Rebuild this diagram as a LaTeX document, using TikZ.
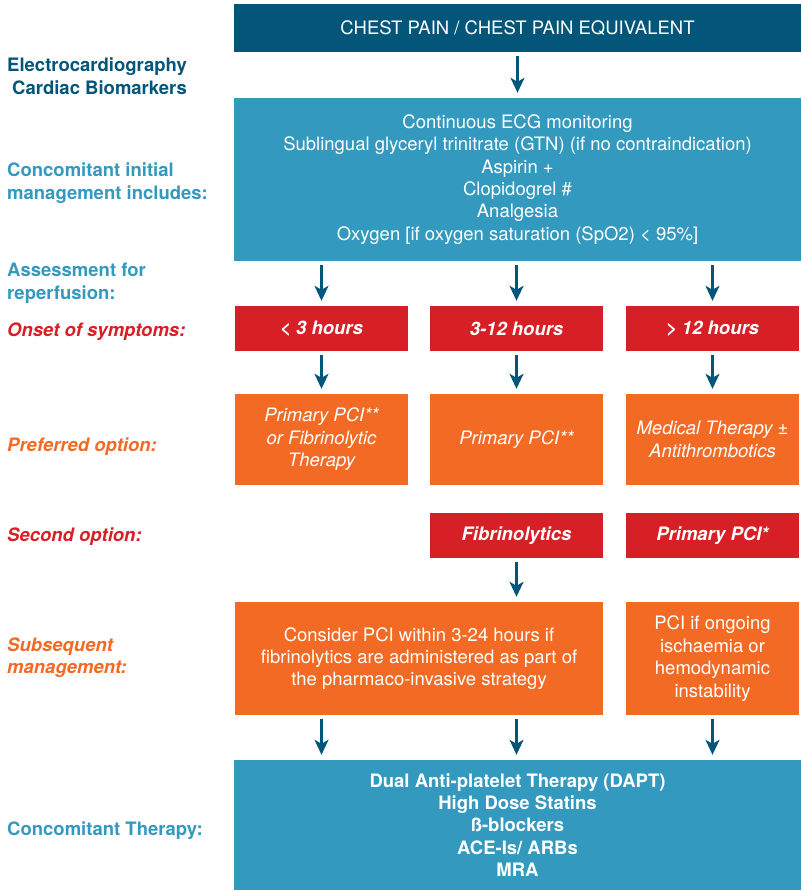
\documentclass[tikz,border=0pt]{standalone}
\usepackage{fontspec}
\setmainfont{TeX Gyre Heros}
\usetikzlibrary{arrows.meta,calc}
\definecolor{dblue}{HTML}{03557A}
\definecolor{cteal}{HTML}{3399BF}
\definecolor{cred}{HTML}{D71F26}
\definecolor{corange}{HTML}{F26A23}
\newcommand{\fsz}{\fontsize{18.5}{22.4}\selectfont}
\begin{document}
\begin{tikzpicture}[x=1pt,y=-1pt,
  box/.style={rectangle, inner sep=0pt, align=center, text=white, font=\fsz},
  topbox/.style={box, fill=dblue, minimum width=567pt, minimum height=48pt},
  tealbox/.style={box, fill=cteal, minimum width=567pt},
  redbox/.style={box, fill=cred, minimum width=173pt, minimum height=45pt,
    font=\fsz\bfseries\itshape},
  orbox/.style={box, fill=corange, minimum width=173pt},
  itbox/.style={orbox, minimum height=91pt, font=\fsz\itshape},
  lab/.style={inner sep=0pt, align=left, anchor=west,
    font=\fontsize{18.5}{23}\selectfont\bfseries},
  labb/.style={lab, anchor=base west},
  labi/.style={labb, font=\fontsize{18.5}{23}\selectfont\bfseries\itshape},
  arr/.style={draw=dblue, line width=2.2pt,
    -{Stealth[length=15pt,width=14pt,inset=4pt]},
    shorten <=4pt, shorten >=5pt}]
\useasboundingbox (0,0) rectangle (801,891);

% main column
\node[topbox] (top) at (517.5,28) {CHEST PAIN / CHEST PAIN EQUIVALENT};
\node[tealbox, minimum height=163pt] (init) at (517.5,179.5)
  {Continuous ECG monitoring\\
   Sublingual glyceryl trinitrate (GTN) (if no contraindication)\\
   Aspirin +\\
   Clopidogrel \#\\
   Analgesia\\
   Oxygen [if oxygen saturation (SpO2) < 95\%]};

\node[redbox] (r1) at (321.5,328.5) {< 3 hours};
\node[redbox] (r2) at (516.5,328.5) {3-12 hours};
\node[redbox] (r3) at (712.5,328.5) {> 12 hours};

\node[itbox] (p1) at (321.5,439.5) {Primary PCI**\\ or Fibrinolytic\\ Therapy};
\node[itbox] (p2) at (516.5,439.5) {Primary PCI**};
\node[itbox] (p3) at (712.5,439.5) {Medical Therapy ±\\ Antithrombotics};

\node[redbox] (s2) at (516.5,535.5) {Fibrinolytics};
\node[redbox] (s3) at (712.5,535.5) {Primary PCI*};

\node[orbox, minimum width=368pt, minimum height=113pt] (sa) at (419,658.5)
  {Consider PCI within 3-24 hours if\\
   fibrinolytics are administered as part of\\
   the pharmaco-invasive strategy};
\node[orbox, minimum height=113pt] (sb) at (712.5,658.5)
  {PCI if ongoing\\ ischaemia or\\ hemodynamic\\ instability};

\node[tealbox, minimum height=130pt, font=\fsz\bfseries] (bot) at (517.5,825)
  {Dual Anti-platelet Therapy (DAPT)\\
   High Dose Statins\\
   ß-blockers\\
   ACE-Is/ ARBs\\
   MRA};

% arrows
\draw[arr] (top) -- (init);
\draw[arr] (init.south -| r1) -- (r1);
\draw[arr] (init.south -| r2) -- (r2);
\draw[arr] (init.south -| r3) -- (r3);
\draw[arr] (r1) -- (p1);
\draw[arr] (r2) -- (p2);
\draw[arr] (r3) -- (p3);
\draw[arr] (s2) -- (s2 |- sa.north);
\draw[arr] (sa.south -| r1) -- (bot.north -| r1);
\draw[arr] (sa.south -| r2) -- (bot.north -| r2);
\draw[arr] (sb) -- (bot.north -| sb);

% left labels
\node[lab, text=dblue] (l1) at (7,76) {Electrocardiography\\\hspace*{5pt}Cardiac Biomarkers};
\node[lab, text=cteal] (l2) at (7,183) {Concomitant initial\\management includes:};
\node[lab, text=cteal] (l3) at (7,283.5) {Assessment for\\reperfusion:};
\node[labi, text=cred] (l4) at (7,336) {Onset of symptoms:};
\node[labi, text=corange] (l5) at (7,451.5) {Preferred option:};
\node[labi, text=cred] (l6) at (7,541.5) {Second option:};
\node[lab, text=corange, font=\fontsize{18.5}{22}\selectfont\bfseries\itshape] (l7) at (7,658) {Subsequent\\management:};
\node[labb, text=cteal] (l8) at (7,835) {Concomitant Therapy:};
\end{tikzpicture}
\end{document}
